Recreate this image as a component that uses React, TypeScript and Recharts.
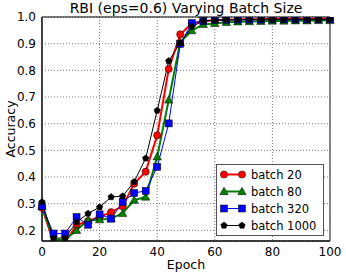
import React from 'react';
import {
  LineChart,
  Line,
  XAxis,
  YAxis,
  CartesianGrid,
  ReferenceArea,
  ReferenceLine,
  Label,
} from 'recharts';

const epochs = [0, 4, 8, 12, 16, 20, 24, 28, 32, 36, 40, 44, 48, 52, 56, 60, 64, 68, 72, 76, 80, 84, 88, 92, 96, 100];

const batch20 = [0.285, 0.155, 0.155, 0.22, 0.235, 0.25, 0.268, 0.29, 0.375, 0.42, 0.556, 0.805, 0.935, 0.975, 0.985, 0.988, 0.99, 0.991, 0.992, 0.992, 0.993, 0.993, 0.993, 0.993, 0.993, 0.993];
const batch80 = [0.29, 0.165, 0.165, 0.2, 0.238, 0.24, 0.244, 0.264, 0.313, 0.325, 0.476, 0.689, 0.905, 0.949, 0.972, 0.976, 0.98, 0.982, 0.983, 0.984, 0.985, 0.985, 0.986, 0.986, 0.987, 0.987];
const batch320 = [0.29, 0.188, 0.188, 0.25, 0.221, 0.26, 0.244, 0.306, 0.34, 0.348, 0.438, 0.601, 0.899, 0.977, 0.985, 0.988, 0.989, 0.99, 0.99, 0.99, 0.991, 0.991, 0.991, 0.991, 0.991, 0.991];
const batch1000 = [0.306, 0.171, 0.171, 0.231, 0.263, 0.287, 0.325, 0.328, 0.382, 0.47, 0.649, 0.835, 0.902, 0.964, 0.985, 0.988, 0.99, 0.99, 0.991, 0.991, 0.991, 0.991, 0.991, 0.991, 0.991, 0.991];

const xTicks = [0, 20, 40, 60, 80, 100];
const yTicks = [0.2, 0.3, 0.4, 0.5, 0.6, 0.7, 0.8, 0.9, 1.0];

const series = [
  { key: 'b20', name: 'batch 20', color: '#ff0000', shape: 'circle', width: 2, values: batch20 },
  { key: 'b80', name: 'batch 80', color: '#008000', shape: 'triangle', width: 2, values: batch80 },
  { key: 'b320', name: 'batch 320', color: '#0000ff', shape: 'square', width: 1, values: batch320 },
  { key: 'b1000', name: 'batch 1000', color: '#000000', shape: 'pentagon', width: 1, values: batch1000 },
];

const data = epochs.map((epoch, i) => {
  const row: Record<string, number> = { epoch };
  series.forEach((s) => {
    row[s.key] = s.values[i];
  });
  return row;
});

const font = '"DejaVu Sans", sans-serif';

function Marker({ cx, cy, shape, color }: { cx: number; cy: number; shape: string; color: string }) {
  if (shape === 'circle') {
    return <circle cx={cx} cy={cy} r={3.6} fill={color} stroke="#000" strokeWidth={0.5} />;
  }
  if (shape === 'triangle') {
    const r = 4.2;
    const pts = `${cx},${cy - r} ${cx - r},${cy + r * 0.75} ${cx + r},${cy + r * 0.75}`;
    return <polygon points={pts} fill={color} stroke="#000" strokeWidth={0.5} />;
  }
  if (shape === 'square') {
    return <rect x={cx - 3.5} y={cy - 3.5} width={7} height={7} fill={color} stroke="#000" strokeWidth={0.5} />;
  }
  const r = 3.4;
  const pts = [0, 1, 2, 3, 4]
    .map((k) => {
      const a = -Math.PI / 2 + (k * 2 * Math.PI) / 5;
      return `${cx + r * Math.cos(a)},${cy + r * Math.sin(a)}`;
    })
    .join(' ');
  return <polygon points={pts} fill={color} stroke="#000" strokeWidth={0.5} />;
}

function LegendBox() {
  return (
    <div
      style={{
        position: 'absolute',
        left: 216,
        top: 164,
        width: 108,
        height: 72,
        border: '1px solid #555',
        background: '#fff',
        fontFamily: font,
        fontSize: 11.5,
        boxSizing: 'border-box',
      }}
    >
      {series.map((s, i) => (
        <div key={s.key} style={{ position: 'absolute', left: 0, top: 1 + i * 17, height: 17, display: 'flex', alignItems: 'center' }}>
          <svg width={34} height={17} style={{ display: 'block' }}>
            <line x1={7} x2={25} y1={8.5} y2={8.5} stroke={s.color} strokeWidth={s.width} />
            <Marker cx={7} cy={8.5} shape={s.shape} color={s.color} />
            <Marker cx={25} cy={8.5} shape={s.shape} color={s.color} />
          </svg>
          <span style={{ whiteSpace: 'nowrap' }}>{s.name}</span>
        </div>
      ))}
    </div>
  );
}

export default function App() {
  return (
    <div style={{ position: 'fixed', left: 0, top: 0, width: 346, height: 277, background: '#fff' }}>
      <div
        style={{
          position: 'absolute',
          left: 42,
          width: 288,
          top: 0,
          lineHeight: '16px',
          textAlign: 'center',
          fontFamily: font,
          fontSize: 14,
          whiteSpace: 'nowrap',
        }}
      >
        RBI (eps=0.6) Varying Batch Size
      </div>
      <LineChart width={346} height={277} data={data} margin={{ top: 17, right: 16, left: 0, bottom: 0 }}>
        <CartesianGrid stroke="#777" strokeDasharray="1 2" />
        <XAxis
          dataKey="epoch"
          type="number"
          domain={[0, 100]}
          ticks={xTicks}
          height={36}
          tickLine={false}
          tickSize={4}
          axisLine={{ stroke: '#000' }}
          tick={{ fill: '#000', fontSize: 12, fontFamily: font }}
        >
          <Label value="Epoch" position="insideBottom" offset={8} style={{ fill: '#000', fontSize: 12.5, fontFamily: font }} />
        </XAxis>
        <YAxis
          type="number"
          domain={[0.16, 1]}
          ticks={yTicks}
          allowDataOverflow
          width={42}
          tickLine={false}
          tickSize={4}
          axisLine={{ stroke: '#000' }}
          tickFormatter={(v: number) => v.toFixed(1)}
          tick={{ fill: '#000', fontSize: 12, fontFamily: font }}
        >
          <Label value="Accuracy" angle={-90} position="insideLeft" offset={11} style={{ fill: '#000', fontSize: 12.5, fontFamily: font, textAnchor: 'middle' }} />
        </YAxis>
        <ReferenceArea x1={0} x2={100} y1={0.16} y2={1} fill="none" stroke="#000" strokeWidth={1} />
        <ReferenceLine x={0} stroke="#888" strokeWidth={1.5} />
        <ReferenceLine x={100} stroke="#888" strokeWidth={1.5} />
        {series.map((s) => (
          <Line
            key={s.key}
            dataKey={s.key}
            name={s.name}
            type="linear"
            stroke={s.color}
            strokeWidth={s.width}
            isAnimationActive={false}
            dot={(p: any) => <Marker key={`${s.key}-${p.index}`} cx={p.cx} cy={p.cy} shape={s.shape} color={s.color} />}
            activeDot={false}
          />
        ))}
      </LineChart>
      <LegendBox />
    </div>
  );
}
